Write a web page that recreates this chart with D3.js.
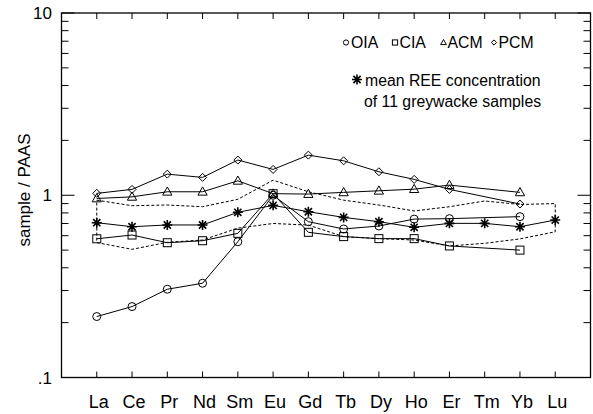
<!DOCTYPE html>
<html>
<head>
<meta charset="utf-8">
<script src="https://cdn.jsdelivr.net/npm/d3@7"></script>
<style>
  body { margin: 0; background: #fff; }
  svg { display: block; }
</style>
</head>
<body>
<div id="chart"></div>
<script>
// REE elements along the x axis
const elements = ["La", "Ce", "Pr", "Nd", "Sm", "Eu", "Gd", "Tb", "Dy", "Ho", "Er", "Tm", "Yb", "Lu"];

// PAAS-normalised values (null = not plotted)
const oia = [0.216, 0.245, 0.305, 0.329, 0.556, 1.0, 0.716, 0.653, 0.678, 0.74, 0.744, null, 0.763, null];
const cia = [0.577, 0.605, 0.549, 0.563, 0.618, 1.02, 0.626, 0.593, 0.578, 0.578, 0.527, null, 0.5, null];
const acm = [0.96, 0.98, 1.045, 1.045, 1.2, 1.02, 1.015, 1.037, 1.058, 1.08, 1.137, null, 1.037, null];
const pcm = [1.024, 1.077, 1.306, 1.253, 1.56, 1.386, 1.66, 1.545, 1.345, 1.222, 1.077, null, 0.895, null];
const meanGreywacke = [0.707, 0.672, 0.687, 0.687, 0.806, 0.88, 0.812, 0.756, 0.716, 0.667, 0.701, 0.701, 0.672, 0.731];
const rangeMax = [0.94, 0.876, 0.884, 0.865, 0.95, 1.21, 1.045, 0.94, 0.884, 0.82, 0.865, 0.93, 0.89, 0.9];
const rangeMin = [0.55, 0.505, 0.552, 0.568, 0.66, 0.7, 0.686, 0.593, 0.578, 0.568, 0.527, 0.545, 0.576, 0.63];

const yMajor = [0.1, 1, 10];
const yMajorLabels = [".1", "1", "10"];
const legendNames = ["OIA", "CIA", "ACM", "PCM"];

const W = 593, H = 414;
const m = { left: 61.5, right: 590.5, top: 13, bottom: 377.5 };

const svg = d3.select("#chart").append("svg")
  .attr("width", W).attr("height", H)
  .attr("viewBox", [0, 0, W, H]);

const x = d3.scaleLinear().domain([-1, elements.length]).range([m.left, m.right]);
const y = d3.scaleLog().domain([0.1, 10]).range([m.bottom, m.top]);

const narrow = "'Liberation Sans Narrow', 'Liberation Sans', Arial, sans-serif";
const sans = "'Liberation Sans', Arial, sans-serif";

// frame
svg.append("rect")
  .attr("x", m.left).attr("y", m.top)
  .attr("width", m.right - m.left).attr("height", m.bottom - m.top)
  .attr("fill", "none").attr("stroke", "#000").attr("stroke-width", 1.3);

// x ticks (inward, top and bottom)
const xt = svg.append("g").attr("stroke", "#000").attr("stroke-width", 1);
elements.forEach((e, i) => {
  xt.append("line").attr("x1", x(i)).attr("x2", x(i)).attr("y1", m.bottom).attr("y2", m.bottom - 6);
  xt.append("line").attr("x1", x(i)).attr("x2", x(i)).attr("y1", m.top).attr("y2", m.top + 6);
});

// y ticks (log, inward on both sides)
y.ticks().forEach(t => {
  const major = yMajor.includes(+t.toPrecision(3));
  const len = major ? 13 : 7;
  xt.append("line").attr("x1", m.left).attr("x2", m.left + len).attr("y1", y(t)).attr("y2", y(t));
  xt.append("line").attr("x1", m.right).attr("x2", m.right - len).attr("y1", y(t)).attr("y2", y(t));
});

// x labels
svg.append("g").selectAll("text").data(elements).join("text")
  .attr("x", (d, i) => x(i) + 2)
  .attr("y", 408)
  .attr("text-anchor", "middle")
  .attr("font-family", narrow)
  .attr("font-size", 18)
  .text(d => d);

// y labels
svg.append("g").selectAll("text").data(yMajor).join("text")
  .attr("x", 52)
  .attr("y", d => y(d) + 6)
  .attr("text-anchor", "end")
  .attr("font-family", narrow)
  .attr("font-size", 17)
  .text((d, i) => yMajorLabels[i]);

// y title
svg.append("text")
  .attr("transform", "translate(30,190) rotate(-90)")
  .attr("text-anchor", "middle")
  .attr("font-family", sans)
  .attr("font-size", 17)
  .text("sample / PAAS");

const line = d3.line()
  .x(d => x(d.i))
  .y(d => y(d.v));

function pts(arr) {
  return arr.map((v, i) => ({ i, v })).filter(d => d.v != null);
}

// dashed envelope of the greywacke samples
const env = rangeMax.map((v, i) => ({ i, v }))
  .concat(rangeMin.map((v, i) => ({ i, v })).reverse());
env.push(env[0]);
svg.append("path")
  .attr("d", line(env))
  .attr("fill", "none").attr("stroke", "#000")
  .attr("stroke-width", 1).attr("stroke-dasharray", "3,2");

// marker shapes
function marker(g, kind, cx, cy, s) {
  if (kind === "circle") {
    g.append("circle").attr("cx", cx).attr("cy", cy).attr("r", s);
  } else if (kind === "square") {
    g.append("rect").attr("x", cx - s).attr("y", cy - s).attr("width", 2 * s).attr("height", 2 * s);
  } else if (kind === "triangle") {
    g.append("path").attr("d", `M${cx},${cy - s * 1.15}L${cx + s * 1.1},${cy + s * 0.8}L${cx - s * 1.1},${cy + s * 0.8}Z`);
  } else if (kind === "diamond") {
    g.append("path").attr("d", `M${cx},${cy - s}L${cx + s},${cy}L${cx},${cy + s}L${cx - s},${cy}Z`);
  } else if (kind === "star") {
    const d = s * 0.72;
    g.append("path").attr("d",
      `M${cx - s},${cy}L${cx + s},${cy}M${cx},${cy - s}L${cx},${cy + s}` +
      `M${cx - d},${cy - d}L${cx + d},${cy + d}M${cx - d},${cy + d}L${cx + d},${cy - d}`)
      .attr("stroke-width", 1.6);
  }
}

const series = [
  { data: oia, kind: "circle", size: 4 },
  { data: cia, kind: "square", size: 4 },
  { data: acm, kind: "triangle", size: 4.2 },
  { data: pcm, kind: "diamond", size: 4 },
  { data: meanGreywacke, kind: "star", size: 5 }
];

series.forEach(s => {
  const p = pts(s.data);
  svg.append("path")
    .attr("d", line(p))
    .attr("fill", "none").attr("stroke", "#000").attr("stroke-width", 1);
  const g = svg.append("g").attr("fill", "none").attr("stroke", "#000").attr("stroke-width", 1);
  p.forEach(d => marker(g, s.kind, x(d.i), y(d.v), s.size));
});

// legend
const lg = svg.append("g");
const legKinds = ["circle", "square", "triangle", "diamond"];
const legSym = [346, 395, 443.5, 494];
const legGap = [5, 4.5, 4, 4.5];
const lgm = lg.append("g").attr("fill", "none").attr("stroke", "#000").attr("stroke-width", 1);
legendNames.forEach((n, i) => {
  marker(lgm, legKinds[i], legSym[i], 42.5, 2.6);
  lg.append("text")
    .attr("x", legSym[i] + legGap[i])
    .attr("y", 47.5)
    .attr("font-family", sans)
    .attr("font-size", 15.8)
    .text(n);
});
marker(lgm, "star", 357, 79.5, 5);
lg.append("text").attr("x", 365).attr("y", 85.5)
  .attr("font-family", sans).attr("font-size", 15.8)
  .text("mean REE concentration");
lg.append("text").attr("x", 364).attr("y", 107)
  .attr("font-family", sans).attr("font-size", 15.8)
  .text("of 11 greywacke samples");
</script>
</body>
</html>
